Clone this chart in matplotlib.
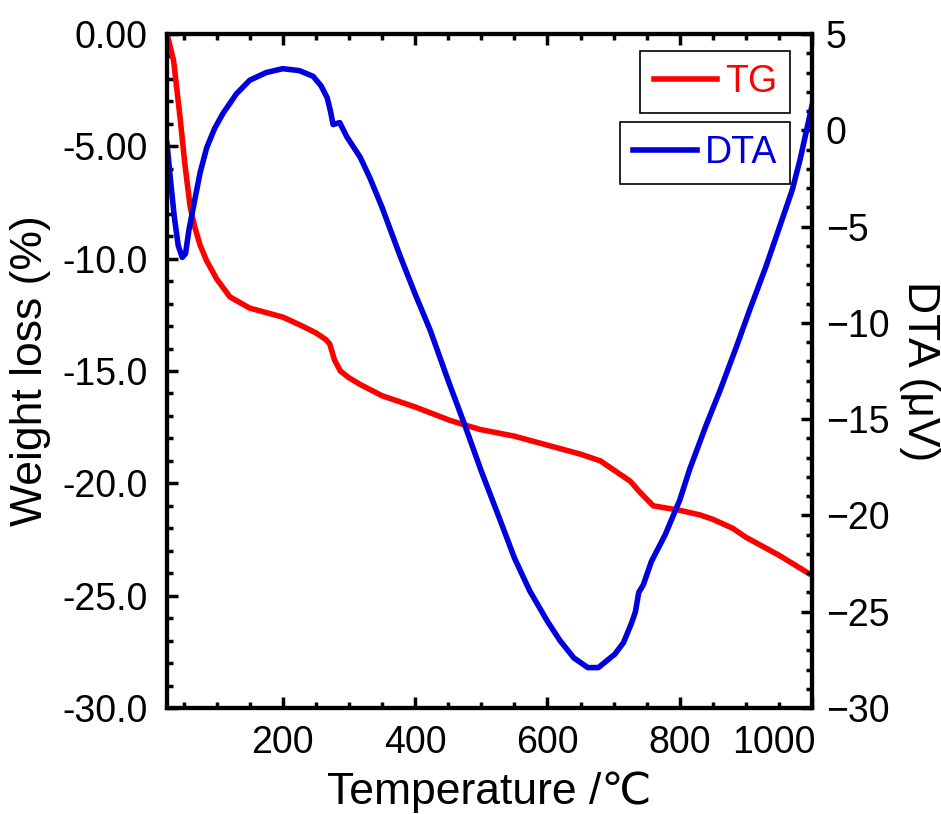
import matplotlib
matplotlib.use("Agg")
import matplotlib.pyplot as plt
from matplotlib.ticker import MultipleLocator
from matplotlib.transforms import ScaledTranslation

plt.rcParams['font.family'] = ['Liberation Sans', 'DejaVu Sans']

# TG curve (weight loss, %)
tg_temp = [25, 35, 45, 52, 60, 67, 75, 85, 100, 120, 150, 200, 226, 250, 265, 271,
           278, 287, 300, 317, 350, 400, 453, 475, 498, 550, 600, 650, 680, 700,
           725, 740, 760, 780, 800, 830, 850, 880, 900, 950, 1000]
tg_val = [0.0, -1.2, -3.8, -5.8, -7.7, -8.6, -9.4, -10.1, -10.9, -11.7, -12.2, -12.6,
          -12.95, -13.3, -13.6, -13.8, -14.5, -15.0, -15.3, -15.6, -16.1, -16.6, -17.2,
          -17.4, -17.6, -17.9, -18.3, -18.7, -19.0, -19.4, -19.9, -20.4, -21.0, -21.1,
          -21.2, -21.4, -21.6, -22.0, -22.4, -23.2, -24.1]

# DTA curve (uV)
dta_temp = [25, 30, 36, 42, 48, 53, 58, 67, 75, 85, 97, 110, 130, 150, 175, 200, 225,
            246, 258, 267, 272, 276, 286, 297, 317, 332, 350, 377, 400, 423, 450,
            475, 500, 528, 550, 573, 600, 619, 640, 661, 677, 702, 715, 727, 733,
            738, 745, 757, 778, 800, 815, 840, 861, 885, 906, 930, 952, 970, 982,
            1000]
dta_val = [-0.7, -2.5, -4.5, -6.0, -6.6, -6.4, -5.2, -3.6, -2.2, -0.9, 0.1, 0.9, 1.9,
           2.6, 3.0, 3.2, 3.1, 2.8, 2.3, 1.7, 1.0, 0.3, 0.4, -0.35, -1.4, -2.5, -4.0,
           -6.5, -8.5, -10.4, -13.0, -15.3, -17.7, -20.2, -22.2, -23.9, -25.5, -26.5,
           -27.4, -27.9, -27.9, -27.2, -26.6, -25.6, -25.0, -24.0, -23.6, -22.4, -21.0,
           -19.2, -17.6, -15.3, -13.5, -11.3, -9.3, -7.1, -4.9, -3.1, -1.5, 1.3]

left_ticks = [0, -5, -10, -15, -20, -25, -30]
left_labels = ["0.00", "-5.00", "-10.0", "-15.0", "-20.0", "-25.0", "-30.0"]
right_ticks = [5, 0, -5, -10, -15, -20, -25, -30]
x_ticks = [200, 400, 600, 800, 1000]

fig = plt.figure(figsize=(9.41, 8.14), dpi=100)
ax = fig.add_axes([0.1775, 0.1302, 0.6855, 0.828])
ax2 = ax.twinx()

l1, = ax.plot(tg_temp, tg_val, color="#ff0000", lw=4, label="TG")
l2, = ax2.plot(dta_temp, dta_val, color="#0000dd", lw=4, label="DTA")

ax.set_xlim(25, 1000)
ax.set_ylim(-30, 0)
ax2.set_ylim(-30, 5)

ax.set_xticks(x_ticks)
ax.xaxis.set_minor_locator(MultipleLocator(50))
ax.set_yticks(left_ticks)
ax.set_yticklabels(left_labels)
ax.yaxis.set_minor_locator(MultipleLocator(1))
ax2.set_yticks(right_ticks)
ax2.yaxis.set_minor_locator(MultipleLocator(1))

for a in (ax, ax2):
    for s in a.spines.values():
        s.set_linewidth(3)
ax.tick_params(which="both", direction="in", top=True, right=False, width=2.5,
               labelsize=27)
ax.tick_params(axis="x", pad=12)
ax.tick_params(axis="y", pad=14)
ax.tick_params(which="major", length=8)
ax.tick_params(which="minor", length=4)
ax2.tick_params(which="both", direction="in", width=2.5, labelsize=27, pad=10)
ax2.tick_params(which="major", length=8)
ax2.tick_params(which="minor", length=4)

# last x label sits left of its tick, as in the original
last = ax.get_xticklabels()[-1]
last.set_horizontalalignment("right")
last.set_transform(last.get_transform() + ScaledTranslation(4 / 100, 0, fig.dpi_scale_trans))

ax.set_xlabel("Temperature /℃", fontsize=32, labelpad=8)
ax.set_ylabel("Weight loss (%)", fontsize=32, labelpad=8)
ax2.set_ylabel("DTA (μV)", fontsize=32, rotation=-90, labelpad=36)

leg_kw = dict(loc="upper right", fontsize=27, fancybox=False, edgecolor="black",
              framealpha=1, handlelength=1.7, handletextpad=0.2, borderpad=0.35,
              borderaxespad=0, bbox_transform=fig.transFigure)
lg1 = ax2.legend([l1], ["TG"], bbox_to_anchor=(790 / 941, 1 - 51 / 814), **leg_kw)
lg1.get_texts()[0].set_color("#ff0000")
lg1.get_frame().set_linewidth(1.2)
ax2.add_artist(lg1)
lg2 = ax2.legend([l2], ["DTA"], bbox_to_anchor=(790 / 941, 1 - 122 / 814), **leg_kw)
lg2.get_texts()[0].set_color("#0000dd")
lg2.get_frame().set_linewidth(1.2)

fig.savefig("out.png", dpi=100)
plt.close(fig)
